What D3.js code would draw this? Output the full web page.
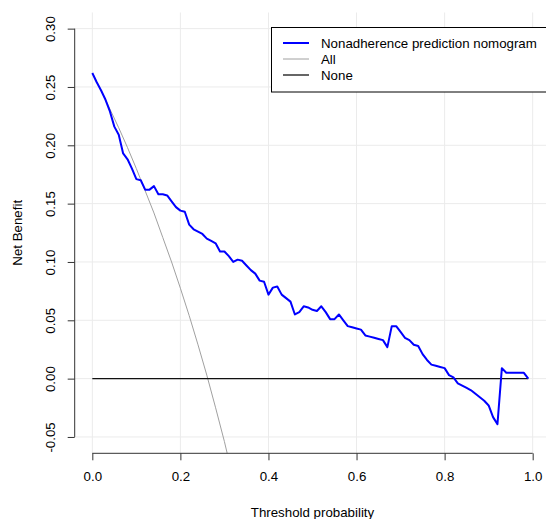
<html>
<head>
<meta charset="utf-8">
<script src="https://d3js.org/d3.v7.min.js"></script>
<style>
  body { margin: 0; background: #fff; }
  text { font-family: "Liberation Sans", Arial, sans-serif; fill: #000; }
</style>
</head>
<body>
<script>
// threshold probabilities and net benefit
var thresholds = [0.00,0.01,0.02,0.03,0.04,0.05,0.06,0.07,0.08,0.09,
                  0.10,0.11,0.12,0.13,0.14,0.15,0.16,0.17,0.18,0.19,
                  0.20,0.21,0.22,0.23,0.24,0.25,0.26,0.27,0.28,0.29,
                  0.30,0.31,0.32,0.33,0.34,0.35,0.36,0.37,0.38,0.39,
                  0.40,0.41,0.42,0.43,0.44,0.45,0.46,0.47,0.48,0.49,
                  0.50,0.51,0.52,0.53,0.54,0.55,0.56,0.57,0.58,0.59,
                  0.60,0.61,0.62,0.63,0.64,0.65,0.66,0.67,0.68,0.69,
                  0.70,0.71,0.72,0.73,0.74,0.75,0.76,0.77,0.78,0.79,
                  0.80,0.81,0.82,0.83,0.84,0.85,0.86,0.87,0.88,0.89,
                  0.90,0.91,0.92,0.93,0.94,0.95,0.96,0.97,0.98,0.99];
var nomogram = [0.262,0.254,0.247,0.239,0.229,0.216,0.209,0.193,0.188,0.180,
                0.171,0.170,0.162,0.162,0.165,0.158,0.158,0.157,0.152,0.147,
                0.144,0.143,0.132,0.128,0.126,0.124,0.120,0.118,0.116,0.109,
                0.109,0.105,0.100,0.102,0.101,0.097,0.093,0.090,0.084,0.083,
                0.072,0.078,0.079,0.072,0.069,0.066,0.055,0.057,0.062,0.061,
                0.059,0.058,0.062,0.057,0.051,0.051,0.055,0.050,0.045,0.044,
                0.043,0.042,0.037,0.036,0.035,0.034,0.033,0.027,0.045,0.045,
                0.040,0.035,0.033,0.029,0.028,0.021,0.016,0.012,0.011,0.010,
                0.009,0.003,0.001,-0.004,-0.006,-0.008,-0.010,-0.013,-0.016,-0.019,
                -0.023,-0.033,-0.039,0.009,0.005,0.005,0.005,0.005,0.005,0.000];
// treat-all curve
var allThresholds = [0.00,0.02,0.04,0.06,0.08,0.10,0.12,0.14,0.16,0.18,0.20,0.22,0.24,0.26,0.28,0.30,0.31];
var allValues     = [0.262,0.247,0.231,0.215,0.198,0.180,0.161,0.142,0.121,0.100,0.0775,0.054,0.029,0.003,-0.025,-0.054,-0.070];
var noneThresholds = [0, 0.99];
var noneValues = [0, 0];

var xTicks = [0, 0.2, 0.4, 0.6, 0.8, 1.0];
var yTicks = [-0.05, 0, 0.05, 0.10, 0.15, 0.20, 0.25, 0.30];
var legendLabels = ["Nonadherence prediction nomogram", "All", "None"];

var w = 546, h = 519;
var pLeft = 74.7, pRight = 550.3, pTop = 12.3, pBottom = 453.3;
var fs = 13.3;

var x = d3.scaleLinear().domain([-0.04, 1.04]).range([pLeft, pRight]);
var y = d3.scaleLinear().domain([-0.064, 0.314]).range([pBottom, pTop]);

var svg = d3.select("body").append("svg")
  .attr("width", w).attr("height", h);

svg.append("defs").append("clipPath").attr("id", "plot")
  .append("rect").attr("x", pLeft).attr("y", pTop)
  .attr("width", pRight - pLeft).attr("height", pBottom - pTop);

// grid
var grid = svg.append("g").attr("clip-path", "url(#plot)");
grid.selectAll("line.v").data(xTicks).enter().append("line")
  .attr("x1", d => x(d)).attr("x2", d => x(d))
  .attr("y1", pTop).attr("y2", pBottom)
  .attr("stroke", "#ebebeb").attr("stroke-width", 1);
grid.selectAll("line.h").data(yTicks).enter().append("line")
  .attr("y1", d => y(d)).attr("y2", d => y(d))
  .attr("x1", pLeft).attr("x2", pRight)
  .attr("stroke", "#ebebeb").attr("stroke-width", 1);

var line = d3.line().x(d => x(d[0])).y(d => y(d[1]));
var plot = svg.append("g").attr("clip-path", "url(#plot)");

plot.append("path").datum(d3.zip(allThresholds, allValues))
  .attr("fill", "none").attr("stroke", "#a0a0a0").attr("stroke-width", 1)
  .attr("d", line);
plot.append("path").datum(d3.zip(noneThresholds, noneValues))
  .attr("fill", "none").attr("stroke", "#111").attr("stroke-width", 1.2)
  .attr("d", line);
plot.append("path").datum(d3.zip(thresholds, nomogram))
  .attr("fill", "none").attr("stroke", "#0000ff").attr("stroke-width", 2)
  .attr("stroke-linejoin", "round")
  .attr("d", line);

// axes (R style: line spans first to last tick)
var xAxis = d3.axisBottom(x).tickValues(xTicks).tickFormat(d => d.toFixed(1))
  .tickSize(7).tickPadding(11);
var gx = svg.append("g").attr("transform", "translate(0," + pBottom + ")").call(xAxis);
gx.select(".domain").remove();
gx.append("line").attr("x1", x(xTicks[0])).attr("x2", x(xTicks[xTicks.length - 1]))
  .attr("stroke", "#333");
gx.selectAll(".tick line").attr("stroke", "#333");
gx.selectAll("text").attr("font-size", fs).attr("fill", "#000")
  .style("font-family", "'Liberation Sans', Arial, sans-serif");

var yAxis = d3.axisLeft(y).tickValues(yTicks).tickFormat(d => d.toFixed(2)).tickSize(7);
var gy = svg.append("g").attr("transform", "translate(" + pLeft + ",0)").call(yAxis);
gy.select(".domain").remove();
gy.append("line").attr("y1", y(yTicks[0])).attr("y2", y(yTicks[yTicks.length - 1]))
  .attr("stroke", "#333");
gy.selectAll(".tick line").attr("stroke", "#333");
gy.selectAll("text")
  .attr("x", null)
  .attr("text-anchor", "middle")
  .attr("transform", "translate(-24,0) rotate(-90)")
  .attr("dy", "0.35em")
  .attr("font-size", fs).attr("fill", "#000")
  .style("font-family", "'Liberation Sans', Arial, sans-serif");

// axis titles
svg.append("text").attr("x", (pLeft + pRight) / 2).attr("y", 517)
  .attr("text-anchor", "middle").attr("font-size", fs)
  .text("Threshold probability");
svg.append("text")
  .attr("transform", "translate(22," + ((pTop + pBottom) / 2) + ") rotate(-90)")
  .attr("text-anchor", "middle").attr("font-size", fs)
  .text("Net Benefit");

// legend
var lg = svg.append("g");
lg.append("rect").attr("x", 271.5).attr("y", 27.5).attr("width", 290).attr("height", 64.5)
  .attr("fill", "#fff").attr("stroke", "#000").attr("stroke-width", 1);
var legendColors = ["#0000ff", "#a0a0a0", "#333"];
var legendWidths = [2, 1, 1.5];
var rows = lg.selectAll("g.row").data(legendLabels).enter().append("g")
  .attr("transform", (d, i) => "translate(0," + (43 + i * 16) + ")");
rows.append("line").attr("x1", 283).attr("x2", 309)
  .attr("stroke", (d, i) => legendColors[i]).attr("stroke-width", (d, i) => legendWidths[i]);
rows.append("text").attr("x", 321).attr("dy", "0.35em").attr("font-size", fs)
  .text(d => d);
</script>
</body>
</html>
